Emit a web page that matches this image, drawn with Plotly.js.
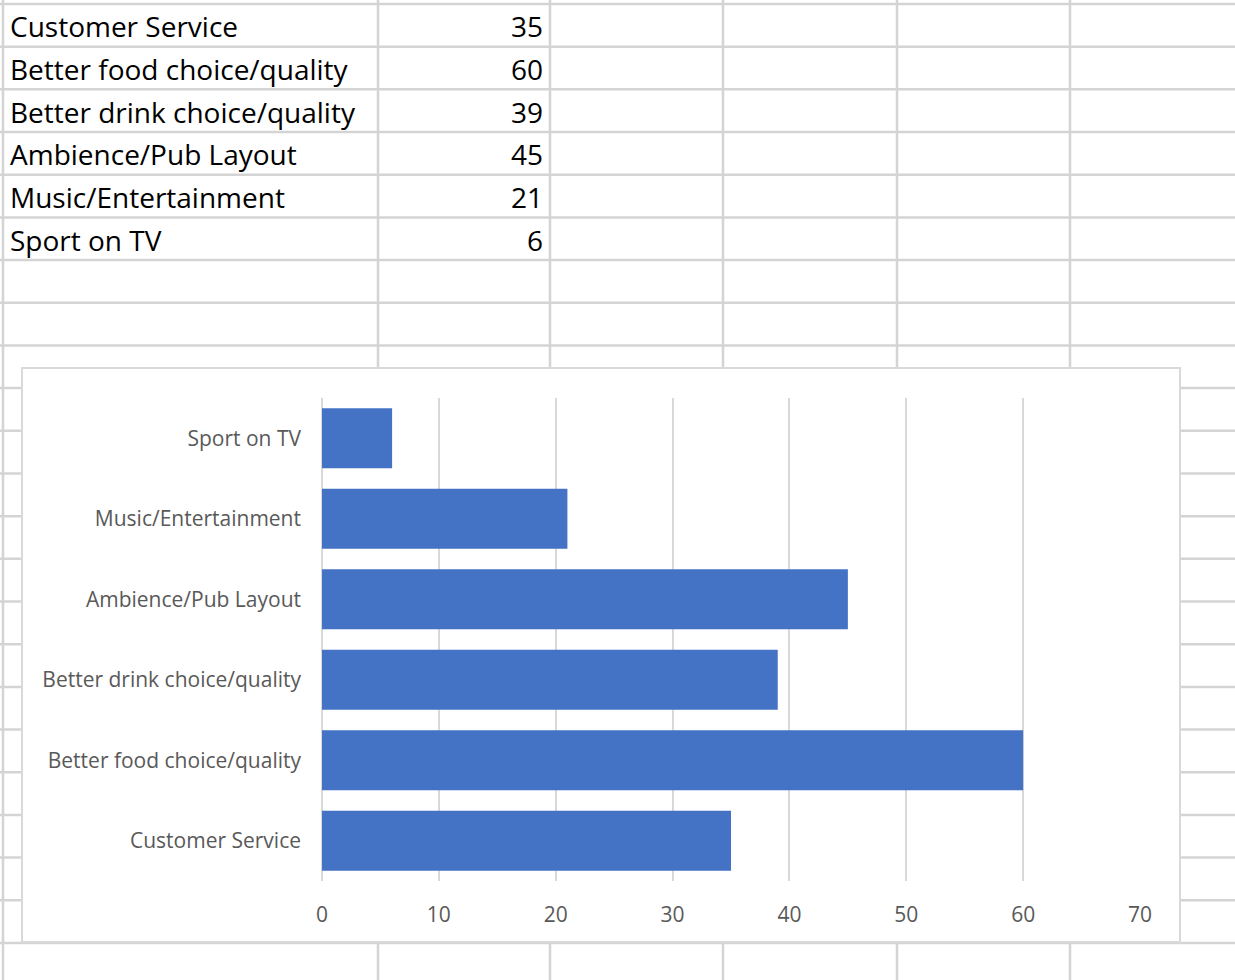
<!DOCTYPE html>
<html>
<head>
<meta charset="utf-8">
<script src="https://cdn.plot.ly/plotly-3.0.1.min.js"></script>
<style>html,body{margin:0;padding:0;background:#fff;}#chart{width:1235px;height:980px;}</style>
</head>
<body>
<div id="chart"></div>
<script>
// ---- Data ----
const categories = ['Customer Service', 'Better food choice/quality', 'Better drink choice/quality', 'Ambience/Pub Layout', 'Music/Entertainment', 'Sport on TV'];
const values = [35, 60, 39, 45, 21, 6];
const xTicks = [0, 10, 20, 30, 40, 50, 60, 70];

// ---- Layout helpers (pixel -> paper) ----
const W = 1235, H = 980;
const px = x => x / W;
const py = y => 1 - y / H;

const gridColor = '#d4d4d4';
const cellFont = {family: 'Open Sans, Liberation Sans, sans-serif', size: 28, color: '#000000'};
const chartFont = {family: 'Open Sans, Liberation Sans, sans-serif', size: 21, color: '#595959'};

const shapes = [];
// spreadsheet column lines
[3, 378, 550, 723, 897, 1070].forEach(x => {
  shapes.push({type: 'line', xref: 'paper', yref: 'paper', x0: px(x), x1: px(x), y0: py(0), y1: py(H), line: {color: gridColor, width: 2.5}, layer: 'below'});
});
// spreadsheet row lines
const rowH = 42.68;
for (let k = 0; 4 + k * rowH < H; k++) {
  const y = 4 + k * rowH;
  shapes.push({type: 'line', xref: 'paper', yref: 'paper', x0: px(0), x1: px(W), y0: py(y), y1: py(y), line: {color: gridColor, width: 2.5}, layer: 'below'});
}
// chart box
shapes.push({type: 'rect', xref: 'paper', yref: 'paper', x0: px(22), x1: px(1180), y0: py(942), y1: py(368), fillcolor: '#ffffff', line: {color: '#d9d9d9', width: 2}, layer: 'below'});

// table text
const annotations = [];
categories.forEach((c, i) => {
  const yc = 4 + (i + 0.5) * rowH + 1;
  annotations.push({xref: 'paper', yref: 'paper', x: px(8), y: py(yc), text: c, showarrow: false, xanchor: 'left', yanchor: 'middle', font: cellFont});
  annotations.push({xref: 'paper', yref: 'paper', x: px(545), y: py(yc), text: String(values[i]), showarrow: false, xanchor: 'right', yanchor: 'middle', font: cellFont});
});

const trace = {
  type: 'bar',
  orientation: 'h',
  x: values,
  y: categories,
  marker: {color: '#4472C4'},
  hoverinfo: 'x+y'
};

const layout = {
  width: W, height: H,
  margin: {l: 0, r: 0, t: 0, b: 0},
  paper_bgcolor: '#ffffff',
  plot_bgcolor: 'rgba(0,0,0,0)',
  showlegend: false,
  bargap: 0.255,
  font: chartFont,
  xaxis: {
    domain: [px(322), px(1140)],
    range: [0, 70],
    tickvals: xTicks,
    ticktext: xTicks.map(String),
    showgrid: true, gridcolor: '#d9d9d9', gridwidth: 2,
    zeroline: true, zerolinecolor: '#d9d9d9', zerolinewidth: 2,
    showline: false, ticks: '',
    tickfont: chartFont,
    ticklabelstandoff: 19,
    fixedrange: true
  },
  yaxis: {
    domain: [py(881), py(398)],
    type: 'category',
    showgrid: false, zeroline: false, showline: false, ticks: '',
    tickfont: chartFont,
    ticklabelstandoff: 20,
    fixedrange: true
  },
  shapes: shapes,
  annotations: annotations
};

Plotly.newPlot('chart', [trace], layout, {displayModeBar: false, staticPlot: true});
</script>
</body>
</html>
